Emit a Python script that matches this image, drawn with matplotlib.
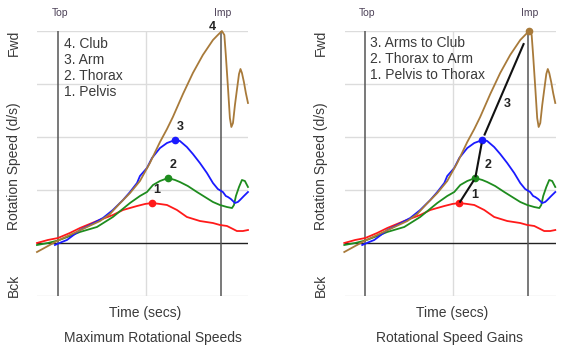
import matplotlib.pyplot as plt
import numpy as np
from matplotlib.transforms import blended_transform_factory

plt.rcParams['font.family'] = ['Liberation Sans', 'DejaVu Sans']

# time axis: 0 = top of backswing, 1 = impact; speed in grid steps (4 = "Fwd" line)
club_t = [-0.127, -0.060, 0.002, 0.075, 0.167, 0.260, 0.321, 0.378, 0.444, 0.505, 0.566, 0.628,
          0.671, 0.707, 0.769, 0.830, 0.891, 0.953, 0.983, 1.008, 1.023, 1.032, 1.045, 1.057,
          1.066, 1.076, 1.088, 1.100, 1.113, 1.122, 1.131, 1.143, 1.155, 1.168]
club_v = [-0.170, -0.057, 0.047, 0.151, 0.283, 0.415, 0.547, 0.736, 0.943, 1.170, 1.509, 1.906,
          2.151, 2.377, 2.811, 3.208, 3.547, 3.830, 3.925, 4.000, 3.925, 3.547, 2.943, 2.358,
          2.189, 2.264, 2.604, 2.887, 3.189, 3.283, 3.208, 3.038, 2.830, 2.642]

arm_t = [-0.017, 0.026, 0.057, 0.106, 0.137, 0.198, 0.278, 0.339, 0.401, 0.444, 0.487, 0.505,
         0.548, 0.579, 0.628, 0.671, 0.720, 0.750, 0.793, 0.830, 0.873, 0.916, 0.953, 0.983,
         1.014, 1.032, 1.045, 1.063, 1.088, 1.106, 1.119, 1.143, 1.168]
arm_v = [-0.038, 0.019, 0.057, 0.170, 0.245, 0.340, 0.472, 0.623, 0.811, 0.962, 1.132, 1.264,
         1.415, 1.604, 1.792, 1.887, 1.943, 1.925, 1.811, 1.679, 1.509, 1.321, 1.132, 1.019,
         0.962, 0.887, 0.868, 0.830, 0.755, 0.774, 0.811, 0.887, 0.962]

thorax_t = [-0.127, -0.060, 0.002, 0.075, 0.137, 0.241, 0.339, 0.444, 0.505, 0.548, 0.585, 0.628,
            0.677, 0.720, 0.750, 0.799, 0.855, 0.904, 0.953, 0.996, 1.039, 1.070, 1.082, 1.094,
            1.113, 1.131, 1.149, 1.168]
thorax_v = [-0.038, 0.0, 0.047, 0.132, 0.208, 0.302, 0.491, 0.755, 0.887, 0.962, 1.094, 1.170,
            1.226, 1.189, 1.151, 1.075, 0.962, 0.868, 0.774, 0.717, 0.679, 0.660, 0.717, 0.887,
            1.057, 1.189, 1.170, 1.057]

pelvis_t = [-0.127, -0.060, 0.002, 0.075, 0.137, 0.241, 0.339, 0.401, 0.487, 0.536, 0.579, 0.628,
            0.671, 0.732, 0.793, 0.873, 0.953, 0.996, 1.039, 1.076, 1.100, 1.137, 1.168]
pelvis_v = [0.0, 0.057, 0.094, 0.189, 0.283, 0.415, 0.528, 0.623, 0.698, 0.736, 0.755, 0.736,
            0.717, 0.623, 0.491, 0.415, 0.377, 0.340, 0.321, 0.264, 0.226, 0.226, 0.245]

events = [0.0, 1.0]
event_names = ['Top', 'Imp']
speed_names = ['Fwd', 'Bck']
left_notes = ['4. Club', '3. Arm', '2. Thorax', '1. Pelvis']
right_notes = ['3. Arms to Club', '2. Thorax to Arm', '1. Pelvis to Thorax']

segs = [(pelvis_t, pelvis_v, '#ff1a1a'), (thorax_t, thorax_v, '#1e8c1e'),
        (arm_t, arm_v, '#1a1aff'), (club_t, club_v, '#a87a3a')]

W, H = 567, 349
fig = plt.figure(figsize=(W / 100, H / 100), dpi=100)
TXT = '#3a3a3a'


def fx(px):
    return px / W


def fy(py):
    return 1 - py / H


def panel(left_px, shift, title, title_x, notes, note_x, note_y0, gains):
    ax = fig.add_axes([fx(left_px), 53 / H, 211 / W, 265 / H])
    ax.set_xlim(-0.125, 1.17)
    ax.set_ylim(-1, 4)
    ax.axis('off')
    for y in [-1, 1, 2, 3, 4]:
        ax.axhline(y, color='#dcdcdc', lw=1, zorder=0)
    ax.axvline(0.54, color='#dcdcdc', lw=1, zorder=0)
    ax.axhline(0, color='#222222', lw=1, zorder=1)
    for x in events:
        ax.axvline(x, color='#555555', lw=1.1, zorder=1)

    peaks = []
    for t, v, c in segs:
        ax.plot(t, v, color=c, lw=1.3, clip_on=False, zorder=3)
        i = int(np.argmax(v))
        peaks.append((t[i], v[i], c))

    if not gains:
        for n, (pt, pv, c) in enumerate(peaks[:3]):
            ax.plot(pt, pv, 'o', color=c, ms=4.5, zorder=4)
            ax.annotate(str(n + 1), (pt, pv), xytext=(5, 13), textcoords='offset pixels',
                        ha='center', va='center', fontsize=9, fontweight='bold', color='#222')
        pt, pv, c = peaks[3]
        ax.annotate('4', (pt, pv), xytext=(-10, 4), textcoords='offset pixels',
                    ha='center', va='center', fontsize=9, fontweight='bold', color='#222')
    else:
        for pt, pv, c in peaks:
            ax.plot(pt, pv, 'o', color=c, ms=4.5, zorder=4, clip_on=False)
        for n in range(3):
            a = np.array(peaks[n][:2])
            b = np.array(peaks[n + 1][:2])
            p0 = a + 0.05 * (b - a)
            p1 = a + 0.88 * (b - a)
            ax.plot([p0[0], p1[0]], [p0[1], p1[1]], color='#111', lw=1.5, zorder=5)
            m = a + 0.33 * (b - a)
            ax.annotate(str(n + 1), tuple(m), xytext=(10, 0), textcoords='offset pixels',
                        ha='center', va='center', fontsize=9, fontweight='bold', color='#222')

    tr = blended_transform_factory(ax.transData, fig.transFigure)
    for x, name in zip(events, event_names):
        ax.text(x + 0.012, fy(13.3), name, transform=tr, ha='center', va='center',
                fontsize=7.5, color='#4d4258')

    fig.text(fx(13.7 + shift), fy(42.5), speed_names[0], rotation=90, ha='center',
             va='center', fontsize=10, color=TXT)
    fig.text(fx(13.7 + shift), fy(285.5), speed_names[1], rotation=90, ha='center',
             va='center', fontsize=10, color=TXT)
    fig.text(fx(13.7 + shift), fy(166.5), 'Rotation Speed (d/s)', rotation=90, ha='center',
             va='center', fontsize=10, color=TXT)
    fig.text(fx(145 + shift), fy(313), 'Time (secs)', ha='center', va='center',
             fontsize=10, color=TXT)
    fig.text(fx(title_x), fy(338), title, ha='center', va='center', fontsize=10, color=TXT)
    for k, s in enumerate(notes):
        fig.text(fx(note_x), fy(note_y0 + 16 * k), s, ha='left', va='center',
                 fontsize=10, color=TXT)


panel(37.3, 0, 'Maximum Rotational Speeds', 153, left_notes, 63.5, 43.5, False)
panel(344.6, 307.5, 'Rotational Speed Gains', 449, right_notes, 370.5, 43, True)

fig.savefig('out.png', dpi=100, facecolor='white')
